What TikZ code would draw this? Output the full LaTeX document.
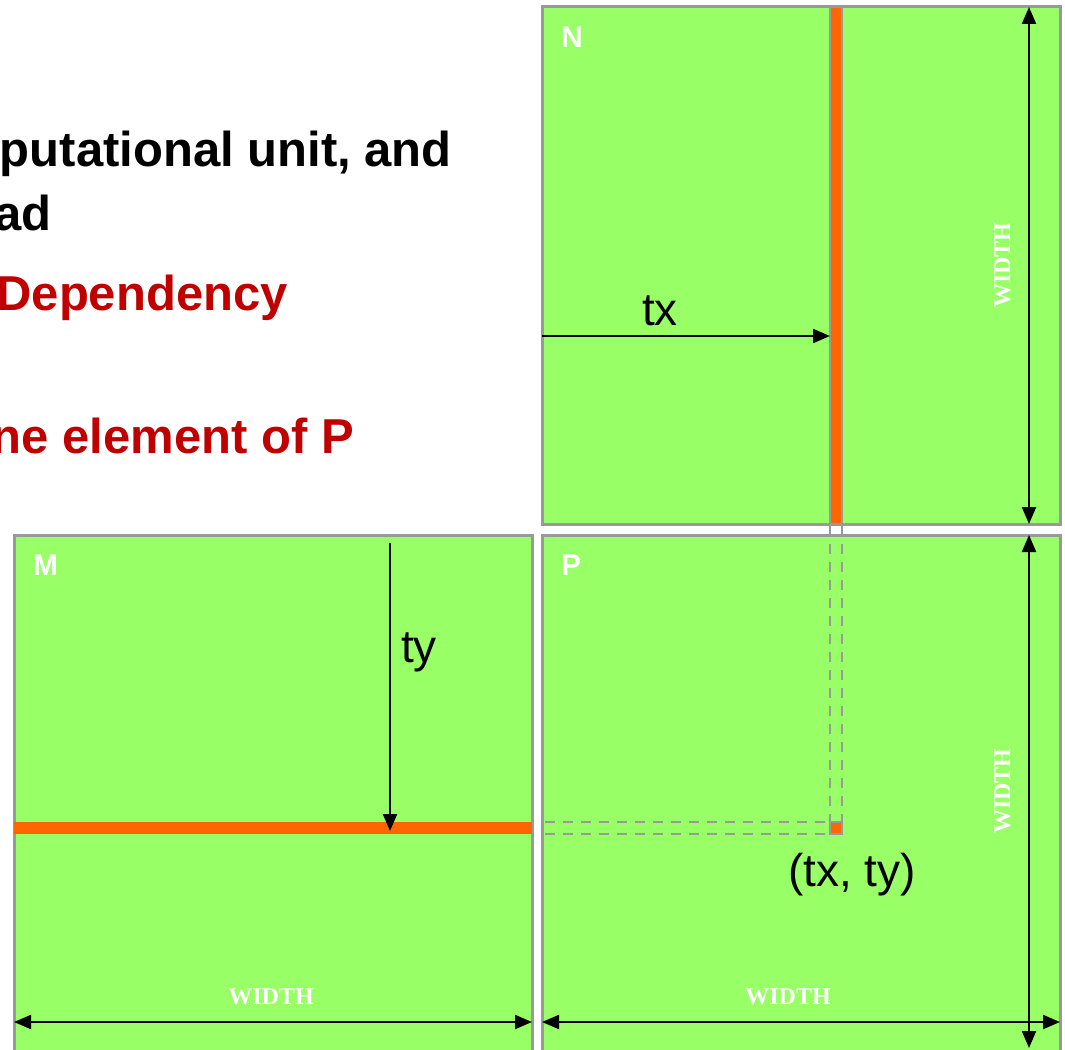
\documentclass[tikz,border=0pt]{standalone}
\usepackage{fontspec}
\setmainfont{Liberation Sans}
\newfontfamily\serifw{Liberation Serif}
\usetikzlibrary{arrows.meta}
\definecolor{boxgreen}{HTML}{99FF66}
\definecolor{boxgray}{HTML}{999999}
\definecolor{stripor}{HTML}{FF6600}
\definecolor{titlered}{HTML}{C00000}
\tikzset{
  mat/.style={draw=boxgray, line width=3pt, fill=boxgreen, inner sep=0pt, outer sep=0pt},
  strip/.style={fill=stripor, draw=boxgray, line width=1.5pt},
  ghost/.style={draw=boxgray, line width=2.5pt, dash pattern=on 10pt off 8pt},
  arr/.style={line width=2.2pt, -{Triangle[length=17pt,width=14pt]}},
  darr/.style={line width=2.2pt, {Triangle[length=17pt,width=14pt]}-{Triangle[length=17pt,width=14pt]}},
  matlabel/.style={text=white, font=\fontsize{30}{34}\selectfont\bfseries, inner sep=0pt, anchor=base west},
  widthlbl/.style={text=white, font=\serifw\fontsize{24}{28}\selectfont\bfseries, inner sep=0pt, anchor=base},
  coord/.style={font=\fontsize{46}{52}\selectfont, inner sep=0pt, anchor=base},
  headline/.style={font=\fontsize{49}{58}\selectfont\bfseries, inner sep=0pt, anchor=base east}
}
\begin{document}
\begin{tikzpicture}[x=1pt, y=-1pt]
\clip (0,0) rectangle (1065,1049);
\fill[white] (0,0) rectangle (1065,1049);
% text
\node[headline] (t1) at (452,166) {putational unit, and};
\node[headline] (t2) at (52,230) {ad};
\node[headline, text=titlered] (t3) at (288,310) {Dependency};
\node[headline, text=titlered] (t4) at (354,453) {ne element of P};
% matrices
\node[mat, minimum width=518pt, minimum height=517pt] (N) at (801,265.5) {};
\node[mat, minimum width=518pt, minimum height=540pt] (M) at (273,805) {};
\node[mat, minimum width=518pt, minimum height=540pt] (P) at (801,805) {};
% strips
\path[strip] (830,7) rectangle (842,524);
\fill[stripor] (14,822) rectangle (532,834);
\path[strip] (830,822) rectangle (842,834);
% dashed guides
\coordinate (va1) at (830,526); \coordinate (va2) at (830,822);
\coordinate (vb1) at (842,526); \coordinate (vb2) at (842,822);
\coordinate (ha1) at (545,822); \coordinate (ha2) at (830,822);
\coordinate (hb1) at (545,834); \coordinate (hb2) at (830,834);
\draw[ghost] (va1) -- (va2);
\draw[ghost] (vb1) -- (vb2);
\draw[ghost] (ha1) -- (ha2);
\draw[ghost] (hb1) -- (hb2);
% labels
\node[matlabel] (Nl) at (561,48) {N};
\node[matlabel] (Ml) at (33,575) {M};
\node[matlabel] (Pl) at (561,575) {P};
% tx / ty arrows
\coordinate (txs) at (542,336); \coordinate (txe) at (830,336);
\draw[arr] (txs) -- (txe);
\node[coord] (tx) at (660,325) {tx};
\coordinate (tys) at (390,543); \coordinate (tye) at (390,831);
\draw[arr] (tys) -- (tye);
\node[coord] (ty) at (419,662) {ty};
\node[coord] (txy) at (852,886) {(tx, ty)};
% WIDTH dimension arrows
\coordinate (nw1) at (1029,7); \coordinate (nw2) at (1029,524);
\draw[darr] (nw1) -- (nw2);
\node[widthlbl, rotate=90] (nwl) at (1010,265) {WIDTH};
\coordinate (pw1) at (1029,535); \coordinate (pw2) at (1029,1048);
\draw[darr] (pw1) -- (pw2);
\node[widthlbl, rotate=90] (pwl) at (1010,791) {WIDTH};
\coordinate (mh1) at (14,1022); \coordinate (mh2) at (532,1022);
\draw[darr] (mh1) -- (mh2);
\node[widthlbl] (mhl) at (271,1004) {WIDTH};
\coordinate (ph1) at (542,1022); \coordinate (ph2) at (1060,1022);
\draw[darr] (ph1) -- (ph2);
\node[widthlbl] (phl) at (788,1004) {WIDTH};
\end{tikzpicture}
\end{document}
